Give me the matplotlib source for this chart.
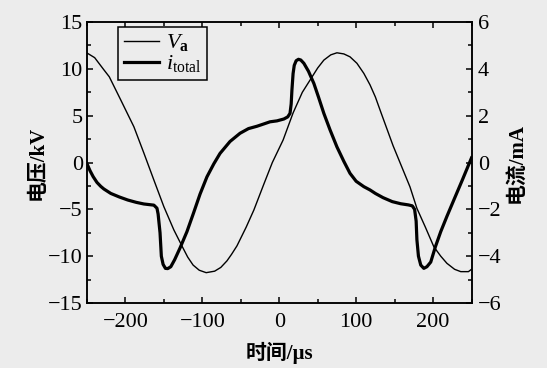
import matplotlib
matplotlib.use("Agg")
import matplotlib.pyplot as plt
from matplotlib.ticker import MultipleLocator

# ---- data ----
t_va = [-250, -240, -228, -221, -206, -189, -176, -163, -150, -137, -126, -119, -112, -104, -95,
        -84, -76, -68, -62, -55, -43, -33, -20, -9, 5, 18, 30, 40, 50, 58, 67, 75, 84, 92, 101, 110,
        118, 125, 132, 140, 148, 157, 170, 179, 190, 201, 210, 218, 228, 236, 246, 250]
v_a = [11.7, 11.2, 9.9, 9.16, 6.67, 3.82, 1.01, -1.87, -4.72, -7.2, -8.99, -10.1, -10.95, -11.5,
       -11.76, -11.6, -11.2, -10.5, -9.8, -8.9, -6.9, -5.07, -2.3, 0.0, 2.4, 5.3, 7.5, 8.8, 10.1,
       10.94, 11.5, 11.72, 11.6, 11.29, 10.6, 9.52, 8.3, 7.0, 5.4, 3.6, 1.8, 0.0, -2.6, -4.89,
       -6.9, -8.99, -10.0, -10.76, -11.4, -11.65, -11.65, -11.4]

t_i = [-250, -246, -242, -237, -232, -228, -219, -208, -197, -186, -176, -163, -159, -157.5, -155,
       -153.3, -151, -148, -145, -141, -136, -129, -120, -111.6, -103, -94, -85, -77, -64, -51, -40,
       -29, -20, -12, -3, 6, 11, 14, 15.5, 16.5, 18, 19.5, 22, 25, 28, 32, 38, 45, 51, 58, 66, 75,
       84, 92, 100, 110, 118, 125, 135, 147, 158, 168, 173, 176, 178, 179, 181, 184, 188, 192, 197,
       203, 210, 218, 227, 238, 250]
i_total = [-0.05, -0.35, -0.6, -0.85, -1.02, -1.13, -1.32, -1.47, -1.60, -1.70, -1.77, -1.82,
           -1.95, -2.2, -3.0, -4.0, -4.35, -4.52, -4.53, -4.45, -4.15, -3.65, -2.95, -2.17, -1.35,
           -0.61, -0.05, 0.39, 0.9, 1.25, 1.45, 1.55, 1.65, 1.74, 1.78, 1.86, 1.95, 2.1, 2.5, 3.1,
           3.8, 4.15, 4.35, 4.41, 4.38, 4.24, 3.9, 3.38, 2.8, 2.1, 1.4, 0.67, 0.05, -0.46, -0.8,
           -1.03, -1.17, -1.32, -1.5, -1.67, -1.76, -1.81, -1.85, -2.0, -2.5, -3.3, -4.0, -4.38,
           -4.52, -4.45, -4.25, -3.6, -2.95, -2.3, -1.6, -0.75, 0.2]

xticks = [-200, -100, 0, 100, 200]
label_va = r'$V_\mathbf{a}$'
label_i = r'$i_\mathrm{total}$'

# ---- style ----
bg = '#ececec'
plt.rcParams['font.family'] = ['Liberation Serif', 'Noto Sans CJK SC']
plt.rcParams['mathtext.fontset'] = 'custom'
plt.rcParams['mathtext.rm'] = 'Liberation Serif'
plt.rcParams['mathtext.it'] = 'Liberation Serif:italic'
plt.rcParams['mathtext.bf'] = 'Liberation Serif:bold'

fig = plt.figure(figsize=(5.47, 3.68), dpi=100, facecolor=bg)
ax = fig.add_axes([0.159, 0.1766, 0.703, 0.7634])
ax2 = ax.twinx()

l1, = ax.plot(t_va, v_a, color='black', lw=1.0, label=label_va)
l2, = ax2.plot(t_i, i_total, color='black', lw=2.3, label=label_i)

ax.set_xlim(-250, 250)
ax.set_ylim(-15, 15)
ax2.set_ylim(-6, 6)
ax.set_xticks(xticks)
ax.xaxis.set_minor_locator(MultipleLocator(50))
ax.yaxis.set_major_locator(MultipleLocator(5))
ax.yaxis.set_minor_locator(MultipleLocator(2.5))
ax2.yaxis.set_major_locator(MultipleLocator(2))
ax2.yaxis.set_minor_locator(MultipleLocator(1))

for a in (ax, ax2):
    for s in a.spines.values():
        s.set_linewidth(1.1)
ax.tick_params(axis='x', which='both', direction='in', top=True, labelsize=16, pad=7)
ax.tick_params(axis='y', which='both', direction='in', right=False, labelsize=16, pad=3)
ax.tick_params(which='major', length=4.5, width=1.1)
ax.tick_params(which='minor', length=2.8, width=1.1)
ax2.tick_params(axis='y', which='both', direction='in', labelsize=16, pad=4.5)
ax2.tick_params(which='major', length=4.5, width=1.1)
ax2.tick_params(which='minor', length=2.8, width=1.1)

ax.set_xlabel('时间/µs', fontsize=15, fontweight='bold', labelpad=7)
ax.set_ylabel('电压/kV', fontsize=15, fontweight='bold', labelpad=0)
ax2.set_ylabel('电流/mA', fontsize=15, fontweight='bold', labelpad=4)

leg = ax.legend(handles=[l1, l2], loc='upper left', bbox_to_anchor=(0.0806, 0.983),
                borderaxespad=0, fancybox=False, framealpha=1, facecolor=bg,
                edgecolor='black', fontsize=16, handlelength=1.6, handletextpad=0.3,
                labelspacing=0.0, borderpad=0.25)
leg.get_frame().set_linewidth(1.1)
leg.set_zorder(5)
ax.set_zorder(ax2.get_zorder() + 1)
ax.patch.set_visible(False)
ax2.patch.set_visible(True)
ax2.set_facecolor(bg)

fig.savefig('out.png', dpi=100, facecolor=bg)
